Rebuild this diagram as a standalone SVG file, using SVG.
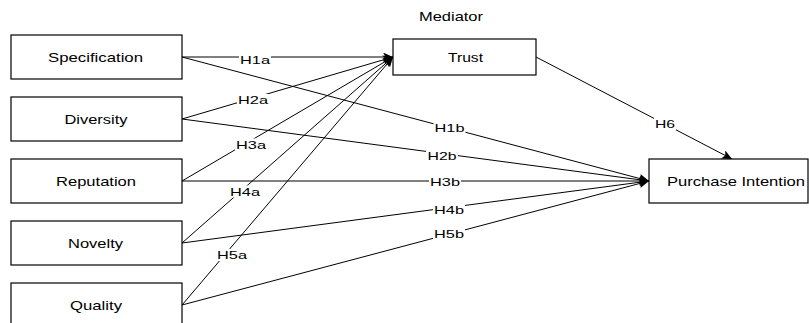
<svg xmlns="http://www.w3.org/2000/svg" width="809" height="323" viewBox="0 0 809 323">
<style>
.box{fill:#fff;stroke:#000;stroke-width:1.2}
.t{font-family:"Liberation Sans",Arial,sans-serif;font-size:13px;fill:#000;text-anchor:middle}
.l{font-family:"Liberation Sans",Arial,sans-serif;font-size:11px;fill:#000;text-anchor:middle}
.e{fill:none;stroke:#000;stroke-width:1}
.bg{fill:#fff}
</style>
<defs>
<marker id="a" markerWidth="11" markerHeight="9" refX="10" refY="4.5" orient="auto" markerUnits="userSpaceOnUse">
<path d="M0,0 L10,4.5 L0,9 L2.5,4.5 z" fill="#000"/>
</marker>
</defs>
<rect width="809" height="323" fill="#fff"/>
<text class="t" x="451" y="21" font-size="12" textLength="64" lengthAdjust="spacingAndGlyphs">Mediator</text>
<g id="connectors">
<line class="e" x1="182" y1="57" x2="393" y2="57" marker-end="url(#a)"/>
<line class="e" x1="182" y1="119" x2="393" y2="57" marker-end="url(#a)"/>
<line class="e" x1="182" y1="181" x2="393" y2="57" marker-end="url(#a)"/>
<line class="e" x1="182" y1="243" x2="393" y2="57" marker-end="url(#a)"/>
<line class="e" x1="182" y1="305" x2="393" y2="57" marker-end="url(#a)"/>
<line class="e" x1="182" y1="57" x2="649" y2="181" marker-end="url(#a)"/>
<line class="e" x1="182" y1="119" x2="649" y2="181" marker-end="url(#a)"/>
<line class="e" x1="182" y1="181" x2="649" y2="181" marker-end="url(#a)"/>
<line class="e" x1="182" y1="243" x2="649" y2="181" marker-end="url(#a)"/>
<line class="e" x1="182" y1="305" x2="649" y2="181" marker-end="url(#a)"/>
<line class="e" x1="536" y1="57" x2="732" y2="159" marker-end="url(#a)"/>
<g id="labels">
<rect class="bg" x="239" y="53" width="32" height="12"/><text class="l" x="255" y="63.5" textLength="30" lengthAdjust="spacingAndGlyphs">H1a</text>
<rect class="bg" x="237" y="94" width="32" height="12"/><text class="l" x="253" y="104" textLength="30" lengthAdjust="spacingAndGlyphs">H2a</text>
<rect class="bg" x="235" y="138.5" width="32" height="12"/><text class="l" x="251" y="148.5" textLength="30" lengthAdjust="spacingAndGlyphs">H3a</text>
<rect class="bg" x="229" y="185.5" width="32" height="12"/><text class="l" x="245" y="195.5" textLength="30" lengthAdjust="spacingAndGlyphs">H4a</text>
<rect class="bg" x="216" y="249" width="32" height="12"/><text class="l" x="232" y="259" textLength="30" lengthAdjust="spacingAndGlyphs">H5a</text>
<rect class="bg" x="433.5" y="122" width="32" height="12"/><text class="l" x="449.5" y="132" textLength="30" lengthAdjust="spacingAndGlyphs">H1b</text>
<rect class="bg" x="426" y="150" width="32" height="12"/><text class="l" x="442" y="160" textLength="29" lengthAdjust="spacingAndGlyphs">H2b</text>
<rect class="bg" x="429" y="176" width="32" height="12"/><text class="l" x="445" y="186" textLength="30" lengthAdjust="spacingAndGlyphs">H3b</text>
<rect class="bg" x="433" y="203.5" width="32" height="12"/><text class="l" x="449" y="213.5" textLength="30" lengthAdjust="spacingAndGlyphs">H4b</text>
<rect class="bg" x="433" y="228" width="32" height="12"/><text class="l" x="449" y="238" textLength="30" lengthAdjust="spacingAndGlyphs">H5b</text>
<rect class="bg" x="654" y="118" width="22" height="12"/><text class="l" x="665" y="128" textLength="20" lengthAdjust="spacingAndGlyphs">H6</text>
</g>
</g>
<g id="specification"><rect class="box" x="11" y="35" width="171" height="44"/><text class="t" x="95.5" y="62" textLength="95" lengthAdjust="spacingAndGlyphs">Specification</text></g>
<g id="diversity"><rect class="box" x="11" y="97" width="171" height="44"/><text class="t" x="96" y="124" textLength="63" lengthAdjust="spacingAndGlyphs">Diversity</text></g>
<g id="reputation"><rect class="box" x="11" y="159" width="171" height="44"/><text class="t" x="96" y="186" textLength="80" lengthAdjust="spacingAndGlyphs">Reputation</text></g>
<g id="novelty"><rect class="box" x="11" y="221" width="171" height="44"/><text class="t" x="95.5" y="248" textLength="55" lengthAdjust="spacingAndGlyphs">Novelty</text></g>
<g id="quality"><rect class="box" x="11" y="283" width="171" height="44"/><text class="t" x="96" y="310" textLength="52" lengthAdjust="spacingAndGlyphs">Quality</text></g>
<g id="trust"><rect class="box" x="393" y="39" width="143" height="36"/><text class="t" x="465.5" y="62" textLength="35" lengthAdjust="spacingAndGlyphs">Trust</text></g>
<g id="purchase-intention"><rect class="box" x="649" y="159" width="159" height="44"/><text class="t" x="736" y="186" textLength="138" lengthAdjust="spacingAndGlyphs">Purchase Intention</text></g>
</svg>
